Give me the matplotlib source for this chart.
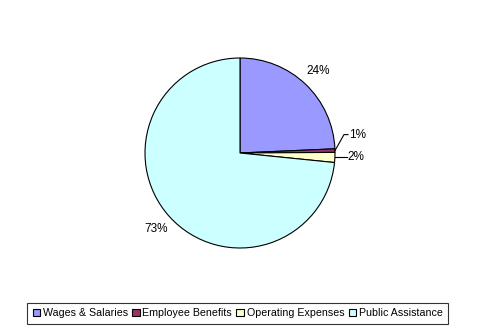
import numpy as np
import matplotlib
matplotlib.use("Agg")
import matplotlib.pyplot as plt
from matplotlib.patches import Patch

plt.rcParams['font.family'] = ['Liberation Sans', 'DejaVu Sans']

categories = ["Wages & Salaries", "Employee Benefits", "Operating Expenses", "Public Assistance"]
values = [24.3, 0.6, 1.7, 73.4]
colors = ["#9999FF", "#993366", "#FFFFCC", "#CCFFFF"]

W, H = 481, 333
fig = plt.figure(figsize=(W / 100, H / 100), dpi=100)
ax = fig.add_axes([0, 0, 1, 1])

cx, cy, r = 240, H - 153, 95
wedges, _ = ax.pie(values, colors=colors, startangle=90, counterclock=False,
                   center=(cx, cy), radius=r, frame=True,
                   wedgeprops=dict(edgecolor='black', linewidth=0.8))
ax.set_xlim(0, W)
ax.set_ylim(0, H)
ax.set_aspect('equal')
ax.axis('off')

total = sum(values)
pct = [f"{round(v / total * 100):d}%" for v in values]

def mid_angle(w):
    return np.deg2rad((w.theta1 + w.theta2) / 2)

# labels for the large slices placed just outside the rim
for i in (0, 3):
    a = mid_angle(wedges[i])
    ax.text(cx + 1.19 * r * np.cos(a), cy + 1.19 * r * np.sin(a), pct[i],
            ha='center', va='center', fontsize=8.5)

# small slices get leader lines
a1 = mid_angle(wedges[1])
p1 = (cx + r * np.cos(a1), cy + r * np.sin(a1))
ax.plot([p1[0], p1[0] + 9, p1[0] + 13], [p1[1], p1[1] + 16, p1[1] + 16], color='black', lw=0.8)
ax.text(p1[0] + 14, p1[1] + 16, pct[1], ha='left', va='center', fontsize=8.5)

a2 = mid_angle(wedges[2])
p2 = (cx + r * np.cos(a2), cy + r * np.sin(a2))
ax.plot([p2[0], p2[0] + 12], [p2[1], p2[1]], color='black', lw=0.8)
ax.text(p2[0] + 13, p2[1], pct[2], ha='left', va='center', fontsize=8.5)

handles = [Patch(facecolor=c, edgecolor='black', linewidth=0.8) for c in colors]
leg = fig.legend(handles, categories, loc='center', bbox_to_anchor=(0.494, 0.059),
                 ncol=4, fontsize=7.7, frameon=True, fancybox=False,
                 handlelength=0.7, handleheight=0.7, handletextpad=0.25,
                 columnspacing=0.4, borderpad=0.5, borderaxespad=0)
leg.get_frame().set_edgecolor('black')
leg.get_frame().set_linewidth(0.8)

fig.savefig("out.png", dpi=100)
